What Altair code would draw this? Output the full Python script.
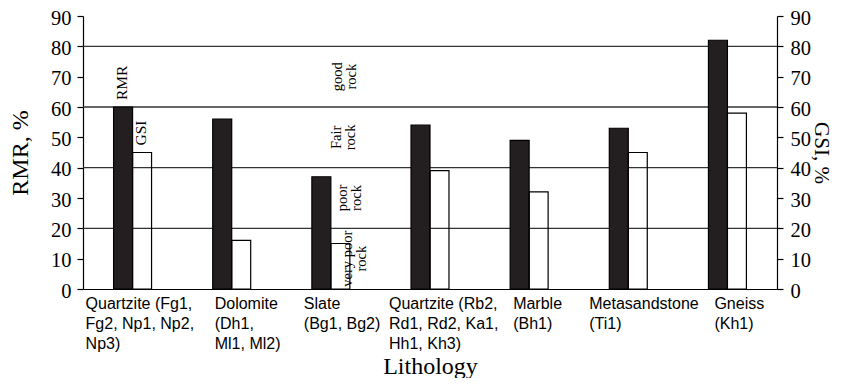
import altair as alt
import pandas as pd

# ---- data ----
categories = [
    "Quartzite (Fg1,\nFg2, Np1, Np2,\nNp3)",
    "Dolomite\n(Dh1,\nMl1, Ml2)",
    "Slate\n(Bg1, Bg2)",
    "Quartzite (Rb2,\nRd1, Rd2, Ka1,\nHh1, Kh3)",
    "Marble\n(Bh1)",
    "Metasandstone\n(Ti1)",
    "Gneiss\n(Kh1)",
]
label_keys = ["Fg1", "Dh1", "Bg1", "Rb2", "Bh1", "Ti1", "Kh1"]
series_names = ["RMR", "GSI"]
rmr = [60, 56, 37, 54, 49, 53, 82]
gsi = [45, 16, 15, 39, 32, 45, 58]

rock_classes = ["very poor\nrock", "poor\nrock", "Fair\nrock", "good\nrock"]
class_lo = [0, 20, 40, 60]
class_hi = [20, 40, 60, 80]
class_lines = [20, 40, 60, 80]
y_ticks = list(range(0, 91, 10))

# ---- style ----
SERIF = "Liberation Serif"
SANS = "Liberation Sans"
label_shift = [-47, -17, -27, -41, -16, -39, -13]
class_shift = {0: 17, 20: 12, 40: 6, 60: 7}

bars_df = pd.DataFrame({
    "category": categories * 2,
    "series": ["RMR"] * len(categories) + ["GSI"] * len(categories),
    "value": rmr + gsi,
})
class_df = pd.DataFrame({
    "label": rock_classes,
    "lo": class_lo,
    "hi": class_hi,
    "anchor": [categories[2]] * len(rock_classes),
})
grid_df = pd.DataFrame({"g": class_lines})

offset_cond = {
    "condition": [
        {"test": f"indexof(datum.value, '{k}') >= 0", "value": s}
        for k, s in zip(label_keys, label_shift)
    ],
    "value": 0,
}

x_axis = alt.Axis(
    labelAngle=0, labelAlign="left", labelBaseline="top",
    labelFont=SANS, labelFontSize=16, labelLineHeight=20, labelColor="black",
    labelPadding=6, labelLimit=0, labelOverlap=False,
    labelExpr="split(datum.value, '\\n')",
    labelOffset=offset_cond,
    ticks=False, domainColor="black", domainWidth=1.2,
    title="Lithology", titleFont=SERIF, titleFontSize=24,
    titleFontWeight="normal", titleColor="black", titlePadding=3,
)
x_scale = alt.Scale(domain=categories, paddingInner=0.617, paddingOuter=0.3085)
xo_scale = alt.Scale(domain=series_names, paddingInner=0, paddingOuter=0)

y_scale = alt.Scale(domain=[0, 90], nice=False)
y_left_axis = alt.Axis(
    orient="left", values=y_ticks, grid=False, tickSize=6, tickColor="black",
    tickWidth=1.2, domainColor="black", domainWidth=1.2,
    labelFont=SERIF, labelFontSize=20.5, labelColor="black", labelPadding=6,
    labelOffset=2,
    title="RMR, %", titleFont=SERIF, titleFontSize=24, titleFontWeight="normal",
    titleColor="black", titlePadding=18,
)
y_right_axis = alt.Axis(
    orient="right", values=y_ticks, grid=False, tickSize=6, tickColor="black",
    tickWidth=1.2, domainColor="black", domainWidth=1.2,
    labelFont=SERIF, labelFontSize=20.5, labelColor="black", labelPadding=7,
    labelOffset=2,
    title="GSI, %", titleFont=SERIF, titleFontSize=21, titleFontWeight="normal",
    titleColor="black", titlePadding=0,
)

bars = alt.Chart(bars_df).mark_bar(stroke="black", strokeWidth=1.2).encode(
    x=alt.X("category:N", scale=x_scale, axis=x_axis, sort=categories),
    xOffset=alt.XOffset("series:N", scale=xo_scale),
    y=alt.Y("value:Q", scale=y_scale, axis=y_left_axis),
    fill=alt.Fill("series:N", scale=alt.Scale(domain=series_names, range=["#231f20", "rgba(255,255,255,0)"]), legend=None),
)

# rotated 270: dx moves up the page, dy moves right
series_text = alt.Chart(bars_df).transform_filter(
    alt.FieldEqualPredicate(field="category", equal=categories[0])
).mark_text(angle=270, align="left", baseline="middle", dx=7, dy=-1,
            font=SERIF, fontSize=15.5, color="black").encode(
    x=alt.X("category:N", scale=x_scale, axis=x_axis, sort=categories),
    xOffset=alt.XOffset("series:N", scale=xo_scale),
    y=alt.Y("value:Q", scale=y_scale, axis=y_left_axis),
    text="series:N",
)

def class_layer(lo, shift):
    return alt.Chart(class_df).transform_filter(f"datum.lo == {lo}").transform_calculate(
        mid="(datum.lo + datum.hi) / 2"
    ).mark_text(angle=270, align="center", baseline="middle", dy=shift,
                font=SERIF, fontSize=14.5, lineHeight=14, lineBreak="\n",
                color="black").encode(
        x=alt.X("anchor:N", scale=x_scale, axis=x_axis, sort=categories),
        y=alt.Y("mid:Q", scale=y_scale, axis=y_left_axis),
        text="label:N",
    )

class_layers = [class_layer(lo, class_shift[lo]) for lo in class_lo]

inner = alt.layer(bars, series_text, *class_layers)

rules = alt.Chart(grid_df).mark_rule(color="#333333", strokeWidth=1.3).encode(
    y=alt.Y("g:Q", scale=y_scale, axis=y_right_axis),
)

chart = alt.layer(rules, inner).resolve_scale(y="independent").properties(
    width=694, height=273,
    padding={"left": 75, "top": 8, "right": 58, "bottom": 89},
    autosize=alt.AutoSizeParams(type="none"),
).configure_view(stroke=None)

chart.save("out.html", embed_options={"renderer": "svg", "actions": False})
